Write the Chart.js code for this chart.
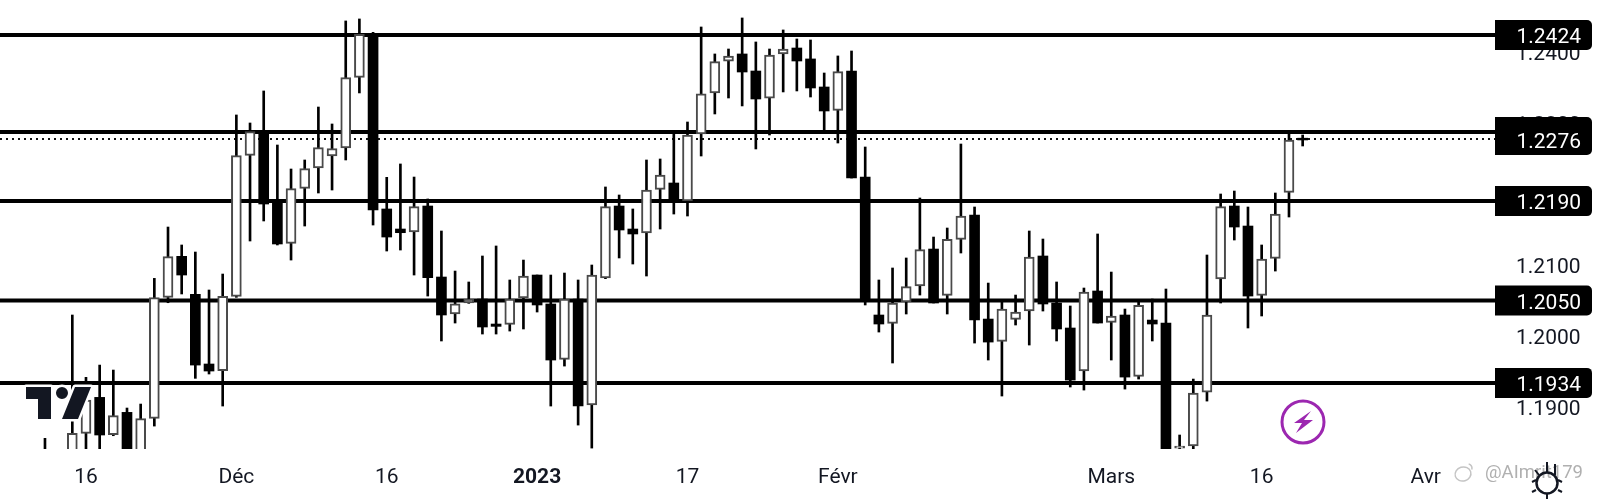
<!DOCTYPE html>
<html><head><meta charset="utf-8">
<style>html,body{margin:0;padding:0;background:#fff}canvas{display:block}</style>
<script src="https://cdn.jsdelivr.net/npm/chart.js@4"></script>
</head><body><canvas id="c" width="1600" height="503"></canvas>
<script>
const highs=[1.18559,1.18347,1.20296,1.19418,1.19591,1.19521,1.18986,1.19042,1.20812,1.21535,1.21282,1.21183,1.20648,1.20873,1.23113,1.23000,1.23451,1.22690,1.22352,1.22479,1.23225,1.22986,1.24437,1.24465,1.24277,1.22235,1.22423,1.22239,1.21930,1.21479,1.20915,1.20761,1.21127,1.21268,1.20789,1.21070,1.20859,1.20859,1.20887,1.20789,1.21000,1.22099,1.21986,1.21789,1.22479,1.22493,1.22887,1.23014,1.24352,1.23972,1.24042,1.24479,1.24141,1.24042,1.24310,1.24183,1.24169,1.23704,1.23944,1.24014,1.22662,1.20789,1.20958,1.21099,1.21944,1.21394,1.21521,1.22704,1.21817,1.20746,1.20507,1.20577,1.21479,1.21366,1.20761,1.20423,1.20676,1.21437,1.20901,1.20380,1.20507,1.20521,1.20662,1.18606,1.19394,1.21141,1.22000,1.22042,1.21817,1.21282,1.22014,1.22855,1.22831];
const lows=[1.18113,1.18019,1.18160,1.18347,1.18347,1.18596,1.18160,1.18113,1.18732,1.20469,1.20592,1.19404,1.19465,1.19014,1.20545,1.21338,1.21620,1.21282,1.21070,1.21549,1.22014,1.22056,1.22479,1.23423,1.21563,1.21197,1.21211,1.20859,1.20563,1.19930,1.20183,1.20460,1.20028,1.20028,1.20070,1.20099,1.20338,1.19014,1.19577,1.18746,1.18422,1.20808,1.21099,1.21014,1.20845,1.21507,1.21718,1.21690,1.22535,1.23127,1.23352,1.23240,1.22634,1.22831,1.23437,1.23451,1.23366,1.22855,1.22718,1.22225,1.20437,1.20056,1.19620,1.20310,1.20577,1.20465,1.20310,1.21169,1.19901,1.19662,1.19155,1.20155,1.19873,1.20352,1.19930,1.19282,1.19239,1.20183,1.19662,1.19253,1.19394,1.19930,1.18019,1.18347,1.18408,1.19084,1.20465,1.21352,1.20113,1.20282,1.20915,1.21676,1.22676];
const opens=[1.18160,1.18066,1.18253,1.18629,1.19136,1.18610,1.18925,1.18160,1.18840,1.20545,1.21122,1.20587,1.19606,1.19512,1.20559,1.22545,1.22873,1.21869,1.21305,1.22080,1.22366,1.22535,1.22648,1.23643,1.24263,1.21789,1.21507,1.21465,1.21831,1.20831,1.20310,1.20465,1.20521,1.20169,1.20164,1.20535,1.20859,1.20451,1.19671,1.20521,1.19028,1.20817,1.21831,1.21507,1.21451,1.22066,1.22155,1.21901,1.22845,1.23423,1.23869,1.23972,1.23732,1.23348,1.23972,1.24056,1.23902,1.23507,1.23178,1.23732,1.22239,1.20296,1.20178,1.20479,1.20704,1.21225,1.20573,1.21362,1.21704,1.20239,1.19925,1.20235,1.20352,1.21127,1.20465,1.20113,1.19507,1.20634,1.20192,1.20296,1.19432,1.20225,1.20183,1.18422,1.18451,1.19211,1.20803,1.21831,1.21549,1.20573,1.21094,1.22024,1.22786];
const closes=[1.18253,1.18253,1.18629,1.19099,1.18606,1.18878,1.18206,1.18836,1.20540,1.21117,1.20859,1.19591,1.19507,1.20559,1.22540,1.22878,1.21859,1.21296,1.22075,1.22357,1.22653,1.22639,1.23639,1.24249,1.21775,1.21394,1.21455,1.21822,1.20822,1.20296,1.20455,1.20521,1.20127,1.20136,1.20521,1.20845,1.20437,1.19662,1.20521,1.19014,1.20859,1.21822,1.21493,1.21437,1.22056,1.22268,1.21916,1.22831,1.23409,1.23864,1.23944,1.23718,1.23338,1.23958,1.24042,1.23873,1.23493,1.23169,1.23723,1.22225,1.20521,1.20169,1.20465,1.20695,1.21216,1.20465,1.21362,1.21690,1.20225,1.19915,1.20380,1.20338,1.21113,1.20451,1.20099,1.19380,1.20620,1.20183,1.20282,1.19422,1.20432,1.20169,1.18066,1.18451,1.19197,1.20296,1.21822,1.21535,1.20563,1.21085,1.21718,1.22761,1.22761];
const levelLines=[1.2424,1.22873,1.2190,1.2050,1.1934];
const lastPrice=1.22775;
const priceTicks=[1.19,1.20,1.21,1.22,1.23,1.24];
const timeTickIndex=[3,14,25,36,47,58,78,89,101];
const timeTickLabels=['16','Déc','16','2023','17','Févr','Mars','16','Avr'];
const priceTags=['1.2424','','1.2276','1.2190','1.2050','1.1934'];
const priceTagValues=[1.2424,1.22873,1.2276,1.2190,1.2050,1.1934];
const watermark='@AImrit179';

const X_MIN=-3.29,X_MAX=106.07,Y_MIN=1.18409,Y_MAX=1.24732;
const ink='#131722';
const idx=highs.map((_,i)=>i);
const hollow=idx.map(i=>closes[i]>opens[i]);

const lineSets=levelLines.map(v=>({type:'line',data:[{x:X_MIN,y:v},{x:X_MAX,y:v}],borderColor:'#000',borderWidth:4,pointRadius:0,order:4}));
lineSets.push({type:'line',data:[{x:X_MIN,y:lastPrice},{x:X_MAX,y:lastPrice}],borderColor:'#111',borderWidth:2,borderDash:[2,4],pointRadius:0,order:3});

const noPad=s=>{s.paddingTop=0;s.paddingBottom=0;s.paddingLeft=0;s.paddingRight=0;};

const overlay={id:'overlay',afterDraw(chart){
  const c=chart.ctx,ya=chart.scales.y;
  c.save();
  // price tags
  priceTagValues.forEach((v,i)=>{
    const y=ya.getPixelForValue(v);
    c.fillStyle='#000';
    c.beginPath();c.roundRect(1495,y-15,97,30,[0,5,5,0]);c.fill();
  });
  c.font='21px Roboto';c.fillStyle='#fff';c.textAlign='right';c.textBaseline='middle';
  priceTagValues.forEach((v,i)=>{
    if(priceTags[i]) c.fillText(priceTags[i],1581,ya.getPixelForValue(v)+3);
  });
  // TradingView logo
  const logo=()=>{c.beginPath();
    c.moveTo(26,387);c.lineTo(51,387);c.lineTo(51,419);c.lineTo(38,419);c.lineTo(38,399);c.lineTo(26,399);c.closePath();
    c.moveTo(68,393);c.arc(62,393,6,0,Math.PI*2);c.closePath();
    c.moveTo(75,387);c.lineTo(91,387);c.lineTo(78,419);c.lineTo(62,419);c.closePath();};
  logo();c.strokeStyle='#fff';c.lineWidth=5;c.lineJoin='round';c.stroke();
  logo();c.fillStyle=ink;c.fill();
  // lightning badge
  c.strokeStyle='#9c27b0';c.lineWidth=3;c.beginPath();c.arc(1303,422,21,0,Math.PI*2);c.stroke();
  c.fillStyle='#9c27b0';c.beginPath();
  c.moveTo(1311,411);c.lineTo(1294,423);c.lineTo(1302,423);c.lineTo(1296,433);c.lineTo(1313,420);c.lineTo(1304,420);c.closePath();c.fill();
  // watermark
  c.font='18.5px Roboto';c.fillStyle='#b0b0b0';c.textAlign='left';c.textBaseline='middle';
  c.fillText(watermark,1485,473);
  c.strokeStyle='#c4c4c4';c.lineWidth=1.5;c.beginPath();c.ellipse(1463,474,8,7,-0.3,0,Math.PI*2);c.stroke();
  c.beginPath();c.arc(1468,468,4,-1.4,0.4);c.stroke();
  // session icon
  c.strokeStyle=ink;c.lineWidth=2.5;c.beginPath();c.arc(1547,483,10.5,0,Math.PI*2);c.stroke();
  c.lineWidth=2;
  [[-15,-1,-11,-3],[-11,7,-15,9],[0,10,0,16],[11,7,15,9],[11,-3,15,-1],[0,-11,0,-21],[-8,-8,-12,-13],[8,-8,8,-19]].forEach(s=>{c.beginPath();c.moveTo(1547+s[0],483+s[1]);c.lineTo(1547+s[2],483+s[3]);c.stroke();});
  c.restore();
}};

new Chart(document.getElementById('c'),{
  type:'bar',
  data:{datasets:[...lineSets,
    {label:'wicks',data:idx.map(i=>({x:i,y:[lows[i],highs[i]]})),backgroundColor:'#000',borderWidth:0,barThickness:2,order:2},
    {label:'bodies',data:idx.map(i=>({x:i,y:[opens[i],closes[i]]})),
      backgroundColor:hollow.map(h=>h?'#fff':'#000'),
      borderColor:hollow.map(h=>h?'#4a4a4a':'#000'),
      borderWidth:hollow.map(h=>h?2:0),borderSkipped:false,barThickness:10,order:1}
  ]},
  options:{responsive:false,animation:false,layout:{padding:0,autoPadding:false},
    datasets:{bar:{grouped:false}},
    plugins:{legend:{display:false},tooltip:{enabled:false}},
    scales:{
      x:{type:'linear',offset:false,min:X_MIN,max:X_MAX,grid:{display:false},border:{display:false},
        afterBuildTicks(s){s.ticks=timeTickIndex.map(v=>({value:v}));},
        afterFit(s){s.height=54;noPad(s);},
        ticks:{autoSkip:false,maxRotation:0,includeBounds:false,padding:8,color:ink,
          callback:v=>timeTickLabels[timeTickIndex.indexOf(v)],
          font:ctx=>({family:'Roboto',size:21,weight:timeTickLabels[timeTickIndex.indexOf(ctx.tick&&ctx.tick.value)]==='2023'?'bold':'normal'})}},
      y:{type:'linear',position:'right',min:Y_MIN,max:Y_MAX,grid:{display:false},border:{display:false},
        afterBuildTicks(s){s.ticks=priceTicks.map(v=>({value:v}));},
        afterFit(s){s.width=105;noPad(s);},
        ticks:{padding:13,labelOffset:2.5,color:ink,font:{family:'Roboto',size:21},callback:v=>v.toFixed(4)}}
    }},
  plugins:[overlay]
});
</script></body></html>
